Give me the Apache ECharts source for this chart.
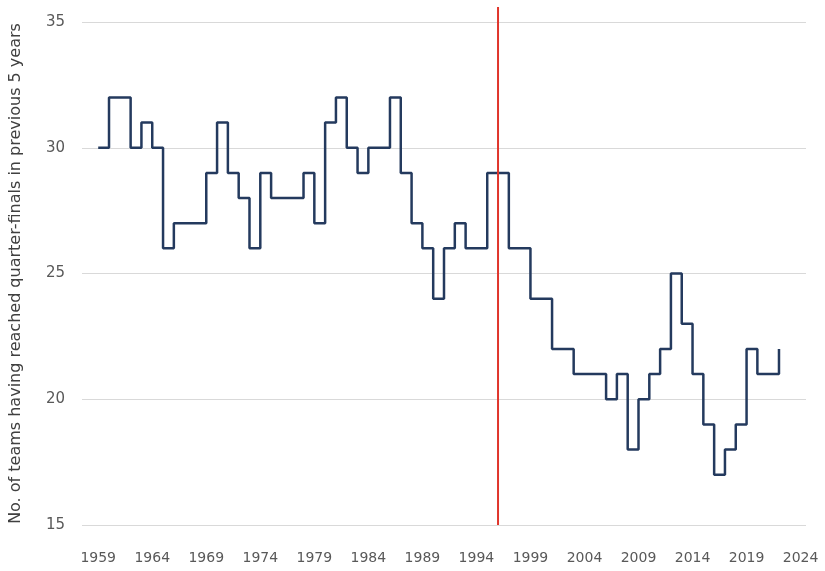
<!DOCTYPE html>
<html>
<head>
<meta charset="utf-8">
<script src="https://cdn.jsdelivr.net/npm/echarts@6/dist/echarts.min.js"></script>
<style>
html,body{margin:0;padding:0;background:#fff;}
#chart{width:825px;height:571px;}
</style>
</head>
<body>
<div id="chart"></div>
<script>
// x-axis categories (years)
const categories = ['1958','1959','1960','1961','1962','1963','1964','1965','1966','1967','1968','1969',
  '1970','1971','1972','1973','1974','1975','1976','1977','1978','1979',
  '1980','1981','1982','1983','1984','1985','1986','1987','1988','1989',
  '1990','1991','1992','1993','1994','1995','1996','1997','1998','1999',
  '2000','2001','2002','2003','2004','2005','2006','2007','2008','2009',
  '2010','2011','2012','2013','2014','2015','2016','2017','2018','2019',
  '2020','2021','2022','2023','2024'];
// tick labels shown on the x axis
const xTickLabels = ['1959','1964','1969','1974','1979','1984','1989','1994','1999','2004','2009','2014','2019','2024'];
// years that have data
const dataYears = ['1959','1960','1961','1962','1963','1964','1965','1966','1967','1968','1969',
  '1970','1971','1972','1973','1974','1975','1976','1977','1978','1979',
  '1980','1981','1982','1983','1984','1985','1986','1987','1988','1989',
  '1990','1991','1992','1993','1994','1995','1996','1997','1998','1999',
  '2000','2001','2002','2003','2004','2005','2006','2007','2008','2009',
  '2010','2011','2012','2013','2014','2015','2016','2017','2018','2019',
  '2020','2021','2022'];
// number of teams having reached quarter-finals in previous 5 years
const teamCounts = [30,32,32,30,31,30,26,27,27,27,29,
  31,29,28,26,29,28,28,28,29,27,
  31,32,30,29,30,30,32,29,27,26,
  24,26,27,26,26,29,29,26,26,24,
  24,22,22,21,21,21,20,21,18,20,
  21,22,25,23,21,19,17,18,19,22,
  21,21,22];
// y-axis ticks
const yTicks = [15,20,25,30,35];
// red marker line
const markerYear = '1996';
const markerRange = [15, 35.6];

const chart = echarts.init(document.getElementById('chart'), null, {renderer:'canvas'});
const font = 'DejaVu Sans';
chart.setOption({
  animation: false,
  grid: {left: 79, right: 19, top: 22, bottom: 46, containLabel: false},
  xAxis: {
    type: 'category',
    data: categories,
    boundaryGap: true,
    axisLine: {show: false},
    axisTick: {show: false},
    axisLabel: {
      interval: (idx, val) => xTickLabels.indexOf(val) >= 0,
      color: '#595959', fontFamily: font, fontSize: 14, margin: 26
    },
    splitLine: {show: false}
  },
  yAxis: {
    type: 'value',
    min: yTicks[0], max: yTicks[yTicks.length-1], interval: 5,
    axisLine: {show: false},
    axisTick: {show: false},
    axisLabel: {color: '#595959', fontFamily: font, fontSize: 15, margin: 17},
    splitLine: {lineStyle: {color: '#d9d9d9', width: 1}},
    name: 'No. of teams having reached quarter-finals in previous 5 years',
    nameLocation: 'middle',
    nameGap: 58,
    nameTextStyle: {color: '#404040', fontFamily: font, fontSize: 16}
  },
  series: [{
    type: 'line',
    step: 'end',
    data: dataYears.map((y, i) => [y, teamCounts[i]]),
    showSymbol: false,
    lineStyle: {color: '#243a5e', width: 2.5},
    itemStyle: {color: '#243a5e'},
    z: 2
  }, {
    type: 'line',
    clip: false,
    data: [[markerYear, markerRange[0]], [markerYear, markerRange[1]]],
    showSymbol: false,
    lineStyle: {color: '#e0352b', width: 2},
    itemStyle: {color: '#e0352b'},
    z: 3
  }]
});
</script>
</body>
</html>
